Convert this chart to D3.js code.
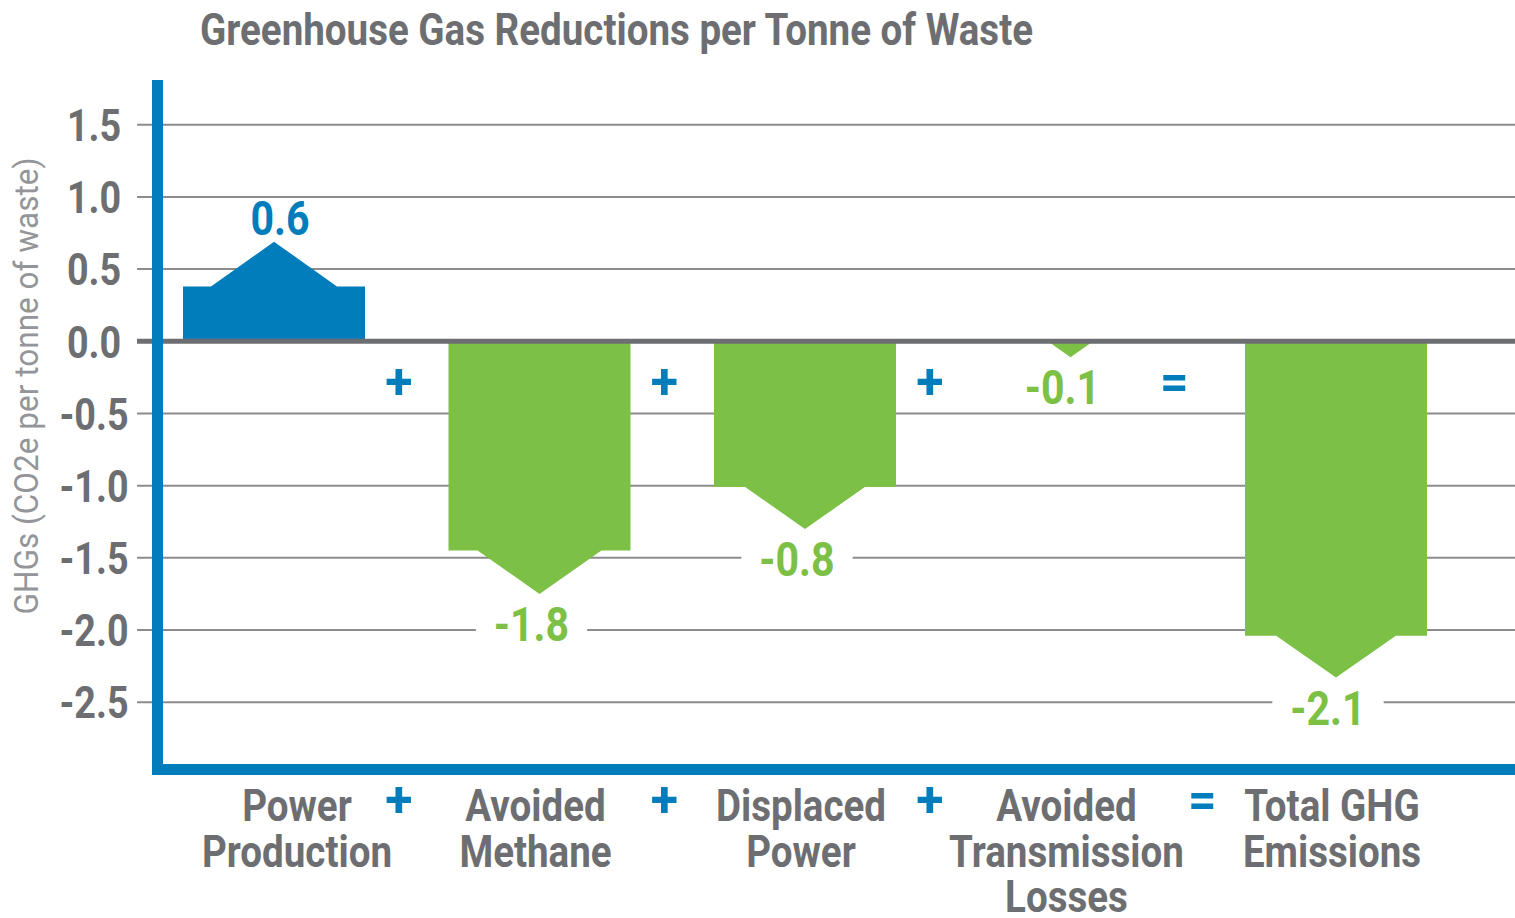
<!DOCTYPE html>
<html>
<head>
<meta charset="utf-8">
<script src="https://cdn.jsdelivr.net/npm/d3@7"></script>
<style>
  body { margin: 0; background: #fff; }
  svg text { font-family: "Roboto", "Liberation Sans", sans-serif; }
</style>
</head>
<body>
<div id="chart"></div>
<script>
// chart data
const categories = [
    ["Power", "Production"],
    ["Avoided", "Methane"],
    ["Displaced", "Power"],
    ["Avoided", "Transmission", "Losses"],
    ["Total GHG", "Emissions"]
];
const labelValues = [0.6, -1.8, -0.8, -0.1, -2.1];      // printed numbers
const bodyValues  = [0.38, -1.45, -1.01, 0, -2.04];     // flat part of each bar
const tipValues   = [0.69, -1.75, -1.30, -0.11, -2.33]; // arrow tip of each bar
const operators   = ["+", "+", "+", "="];
const yTicks      = [1.5, 1.0, 0.5, 0.0, -0.5, -1.0, -1.5, -2.0, -2.5];

const title = "Greenhouse Gas Reductions per Tonne of Waste";
const yTitle = "GHGs (CO2e per tonne of waste)";

const blue = "#007dba", green = "#7cc046", grey = "#6d6e71", lightGrey = "#939598";

const width = 1515, height = 918;

// hyphen instead of the unicode minus d3 uses
const fmt = v => d3.format(".1f")(v).replace("\u2212", "-");

const svg = d3.select("#chart").append("svg")
    .attr("width", width)
    .attr("height", height);

// no condensed font installed, so squeeze glyphs horizontally
let squeezeFactor = 1;
function squeeze(sel, factor) {
    sel.each(function() {
        const len = this.getComputedTextLength();
        d3.select(this).attr("textLength", len * factor).attr("lengthAdjust", "spacingAndGlyphs");
    });
}

// scales
const y = d3.scaleLinear().domain([-2.97, 1.81]).range([770, 80]);
const x = d3.scalePoint().domain(d3.range(categories.length)).range([274, 1336]);
const barHalf = 91;

const data = categories.map((c, i) => ({
    i: i, name: c, label: labelValues[i], body: bodyValues[i], tip: tipValues[i]
}));

// title - its width sets the squeeze for the rest
const titleText = svg.append("text")
    .attr("x", 200).attr("y", 45)
    .attr("fill", grey)
    .attr("font-size", 45).attr("font-weight", "bold")
    .text(title);
squeezeFactor = 833 / titleText.node().getComputedTextLength();
squeeze(titleText, squeezeFactor);

// gridlines
svg.append("g").selectAll("line")
    .data(yTicks.filter(t => t !== 0))
    .join("line")
    .attr("x1", 137).attr("x2", width)
    .attr("y1", d => y(d)).attr("y2", d => y(d))
    .attr("stroke", "#8c8c8c").attr("stroke-width", 2);

// tick labels
const tickLabels = svg.append("g").selectAll("text")
    .data(yTicks)
    .join("text")
    .attr("x", 94).attr("y", d => y(d))
    .attr("dy", "0.37em")
    .attr("text-anchor", "middle")
    .attr("fill", grey)
    .attr("font-size", 44).attr("font-weight", "bold")
    .text(fmt);
squeeze(tickLabels, squeezeFactor);

// y axis title
const yTitleText = svg.append("text")
    .attr("transform", `translate(38, 386) rotate(-90)`)
    .attr("text-anchor", "middle")
    .attr("fill", lightGrey)
    .attr("font-size", 34)
    .text(yTitle);
squeeze(yTitleText, 457 / yTitleText.node().getComputedTextLength());

// value labels get a white box behind that cuts the gridlines
const labelBoxes = svg.append("g").selectAll("rect").data(data).join("rect").attr("fill", "#fff");

// bars with arrow tips
function barPath(d) {
    const cx = x(d.i);
    const y0 = y(0), y1 = y(d.body), yt = y(d.tip);
    const hw = Math.min(63, 1.43 * Math.abs(yt - y1));
    return `M${cx - barHalf},${y0} L${cx - barHalf},${y1} L${cx - hw},${y1} L${cx},${yt} ` +
        `L${cx + hw},${y1} L${cx + barHalf},${y1} L${cx + barHalf},${y0} Z`;
}
svg.append("g").selectAll("path")
    .data(data)
    .join("path")
    .attr("d", barPath)
    .attr("fill", d => d.label > 0 ? blue : green);

const labels = svg.append("g").selectAll("text")
    .data(data)
    .join("text")
    .attr("x", d => x(d.i) + (d.label < 0 ? -8 : 6))
    .attr("y", d => d.label > 0 ? y(d.tip) - 7 : y(d.tip) + 47)
    .attr("text-anchor", "middle")
    .attr("fill", d => d.label > 0 ? blue : green)
    .attr("font-size", 48).attr("font-weight", "bold")
    .text(d => fmt(d.label));
squeeze(labels, squeezeFactor);

labels.each(function(d) { d.bb = this.getBBox(); });
labelBoxes
    .attr("x", d => d.bb.x - 18).attr("y", d => d.bb.y + d.bb.height * 0.2)
    .attr("width", d => d.bb.width + 36).attr("height", d => d.bb.height * 0.65);

// zero line
svg.append("line")
    .attr("x1", 137).attr("x2", width)
    .attr("y1", y(0)).attr("y2", y(0))
    .attr("stroke", grey).attr("stroke-width", 5);

// axes
svg.append("line")
    .attr("x1", 157.5).attr("x2", 157.5)
    .attr("y1", 80).attr("y2", 775)
    .attr("stroke", blue).attr("stroke-width", 11);
svg.append("line")
    .attr("x1", 152).attr("x2", width)
    .attr("y1", 769.5).attr("y2", 769.5)
    .attr("stroke", blue).attr("stroke-width", 11);

// operators between bars, in the plot and in the label row
const opData = operators.map((o, i) => ({ op: o, mid: (x(i) + x(i + 1)) / 2 }));
svg.append("g").selectAll("text")
    .data(opData)
    .join("text")
    .attr("x", d => d.mid - (d.op === "=" ? 29 : 8)).attr("y", y(0) + 58)
    .attr("text-anchor", "middle")
    .attr("fill", blue)
    .attr("font-size", 50).attr("font-weight", "bold")
    .attr("font-family", "Liberation Sans, sans-serif")
    .text(d => d.op);
svg.append("g").selectAll("text")
    .data(opData)
    .join("text")
    .attr("x", d => d.mid - (d.op === "=" ? 1 : 8)).attr("y", 817)
    .attr("text-anchor", "middle")
    .attr("fill", blue)
    .attr("font-size", 50).attr("font-weight", "bold")
    .attr("font-family", "Liberation Sans, sans-serif")
    .text(d => d.op);

// category labels
const catG = svg.append("g").selectAll("text")
    .data(data)
    .join("text")
    .attr("text-anchor", "middle")
    .attr("fill", grey)
    .attr("font-size", 45).attr("font-weight", "bold");
const catLines = catG.selectAll("tspan")
    .data(d => d.name.map(n => ({ n: n, cx: x(d.i) + (d.i === 0 ? 23 : -4) })))
    .join("tspan")
    .attr("x", d => d.cx)
    .attr("y", (d, j) => 821 + j * 45.5)
    .text(d => d.n);
squeeze(catLines, squeezeFactor);
</script>
</body>
</html>
